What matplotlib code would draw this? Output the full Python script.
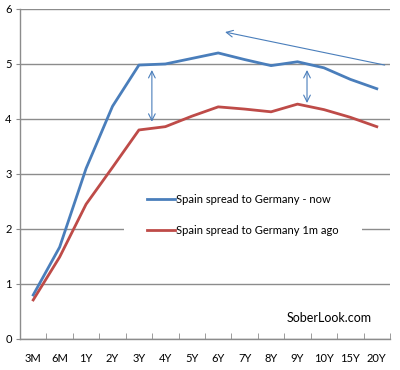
import matplotlib.pyplot as plt
from matplotlib.patches import Rectangle
import numpy as np

plt.rcParams['font.family'] = ['Lato', 'DejaVu Sans']

# --- Chart data ---
TENORS = ["3M", "6M", "1Y", "2Y", "3Y", "4Y", "5Y", "6Y", "7Y", "8Y", "9Y", "10Y", "15Y", "20Y"]
SPREAD_NOW = [0.80, 1.67, 3.10, 4.23, 4.98, 5.00, 5.10, 5.20, 5.08, 4.97, 5.04, 4.93, 4.72, 4.55]
SPREAD_1M = [0.71, 1.49, 2.45, 3.12, 3.80, 3.86, 4.05, 4.22, 4.18, 4.13, 4.27, 4.17, 4.03, 3.86]
LABELS = ["Spain spread to Germany - now", "Spain spread to Germany 1m ago"]

BLUE = "#4A7EBB"
RED = "#BE4B48"
GRID = "#8C8C8C"

fig = plt.figure(figsize=(4.0, 3.7), dpi=100)
ax = fig.add_axes([0.05, 0.0838, 0.925, 0.892])

x = np.arange(len(TENORS))
ax.plot(x, SPREAD_NOW, color=BLUE, lw=2.0, label=LABELS[0], zorder=3)
ax.plot(x, SPREAD_1M, color=RED, lw=2.0, label=LABELS[1], zorder=3)

ax.set_xlim(-0.5, len(TENORS) - 0.5)
ax.set_ylim(0, 6)
ax.set_yticks(range(7))
ax.set_xticks(x)
ax.set_xticklabels(TENORS)
ax.set_xticks(np.arange(-0.5, len(TENORS)), minor=True)
ax.tick_params(axis="x", which="major", length=0, labelsize=8, pad=10, colors="black")
ax.tick_params(axis="x", which="minor", length=4, color=GRID, direction="in")
ax.tick_params(axis="y", length=3, color=GRID, labelsize=8, pad=3)
ax.yaxis.grid(True, color=GRID, lw=1.0)
ax.set_axisbelow(True)
for s in ["top", "right"]:
    ax.spines[s].set_visible(False)
for s in ["left", "bottom"]:
    ax.spines[s].set_color(GRID)
    ax.spines[s].set_linewidth(1.0)

# white legend area (hides part of the gridline behind it)
ax.add_patch(Rectangle((0.281, 0.30), 0.643, 0.185, transform=ax.transAxes,
                       facecolor="white", edgecolor="none", zorder=1.5))

# Annotation arrows
arr = dict(arrowstyle="<->", color=BLUE, lw=0.8, shrinkA=0, shrinkB=0, mutation_scale=12)
ax.annotate("", xy=(4.49, 4.89), xytext=(4.49, 3.95), arrowprops=arr)
ax.annotate("", xy=(10.36, 4.89), xytext=(10.36, 4.29), arrowprops=arr)
ax.annotate("", xy=(7.26, 5.58), xytext=(13.3, 4.98),
            arrowprops=dict(arrowstyle="->", color=BLUE, lw=0.8, shrinkA=0, shrinkB=0, mutation_scale=12))

leg = ax.legend(loc="upper left", bbox_to_anchor=(0.332, 0.452), frameon=False,
                fontsize=8, handlelength=2.5, handletextpad=0.1, labelspacing=1.8,
                borderpad=0.4, borderaxespad=0)
leg.set_zorder(2)

ax.text(0.952, 0.065, "SoberLook.com", transform=ax.transAxes, ha="right", va="center", fontsize=9)

fig.savefig("out.png", dpi=100)
